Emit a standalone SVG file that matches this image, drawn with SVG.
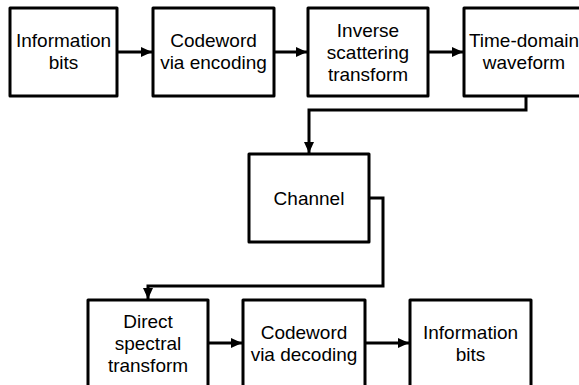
<svg xmlns="http://www.w3.org/2000/svg" width="579" height="385" viewBox="0 0 579 385">
<style>
.box{fill:#fff;stroke:#000;stroke-width:3;stroke-linejoin:round}
.lbl{font-family:"Liberation Sans",Arial,sans-serif;font-size:19px;fill:#000;text-anchor:middle}
.con{fill:none;stroke:#000;stroke-width:3}
</style>
<defs>
<marker id="arr" markerUnits="userSpaceOnUse" markerWidth="12" markerHeight="12" viewBox="0 0 12 12" refX="11" refY="6" orient="auto">
<path d="M0,1 L11,6 L0,11 Z" fill="#000"/>
</marker>
</defs>
<rect width="579" height="385" fill="#fff"/>
<g id="connectors">
<path class="con" d="M117,52 H152" marker-end="url(#arr)"/>
<path class="con" d="M274,52 H307" marker-end="url(#arr)"/>
<path class="con" d="M428,52 H463" marker-end="url(#arr)"/>
<path class="con" d="M526,96 V110 H309 V153" marker-end="url(#arr)"/>
<path class="con" d="M369,198 H383 V286 H148 V299" marker-end="url(#arr)"/>
<path class="con" d="M208,343 H242" marker-end="url(#arr)"/>
<path class="con" d="M365,343 H409" marker-end="url(#arr)"/>
</g>
<g id="n1"><rect class="box" x="10" y="8" width="107" height="88"/>
<text class="lbl" x="63.5" y="47">Information</text><text class="lbl" x="63.5" y="69">bits</text></g>
<g id="n2"><rect class="box" x="153" y="8" width="121" height="88"/>
<text class="lbl" x="213.5" y="47">Codeword</text><text class="lbl" x="213.5" y="69">via encoding</text></g>
<g id="n3"><rect class="box" x="308" y="8" width="120" height="88"/>
<text class="lbl" x="368" y="37">Inverse</text><text class="lbl" x="368" y="59">scattering</text><text class="lbl" x="368" y="81">transform</text></g>
<g id="n4"><rect class="box" x="464" y="8" width="121" height="88"/>
<text class="lbl" x="524" y="47">Time-domain</text><text class="lbl" x="524" y="69">waveform</text></g>
<g id="n5"><rect class="box" x="249" y="154" width="120" height="88"/>
<text class="lbl" x="309" y="205">Channel</text></g>
<g id="n6"><rect class="box" x="88" y="300" width="120" height="88"/>
<text class="lbl" x="148" y="328">Direct</text><text class="lbl" x="148" y="350">spectral</text><text class="lbl" x="148" y="372">transform</text></g>
<g id="n7"><rect class="box" x="243" y="300" width="122" height="88"/>
<text class="lbl" x="304" y="339">Codeword</text><text class="lbl" x="304" y="361">via decoding</text></g>
<g id="n8"><rect class="box" x="410" y="300" width="121" height="88"/>
<text class="lbl" x="470.5" y="339">Information</text><text class="lbl" x="470.5" y="361">bits</text></g>
</svg>
